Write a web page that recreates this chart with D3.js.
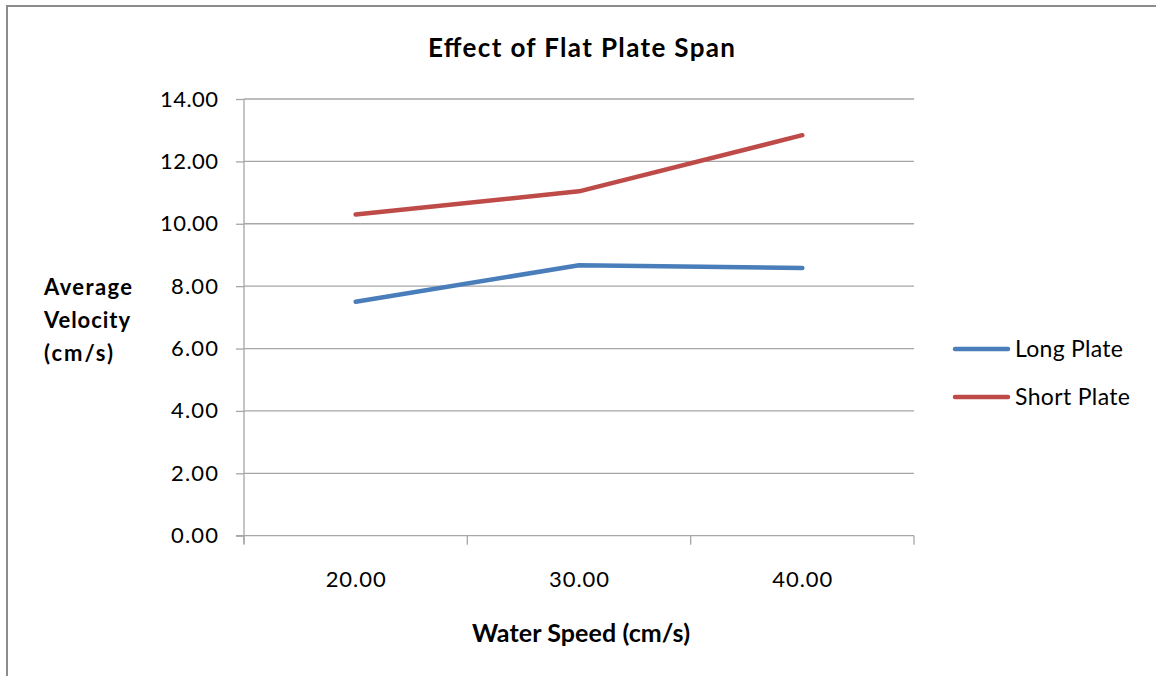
<!DOCTYPE html>
<html>
<head>
<meta charset="utf-8">
<script src="https://cdn.jsdelivr.net/npm/d3@7"></script>
<style>
  html, body { margin: 0; padding: 0; background: #fff; }
  svg { display: block; }
  text { font-family: Lato, "Open Sans", sans-serif; fill: #000; }
</style>
</head>
<body>
<svg id="chart" width="1156" height="676"></svg>
<script>
const categories = ["20.00", "30.00", "40.00"];
const seriesNames = ["Long Plate", "Short Plate"];
const longPlate = [7.50, 8.67, 8.58];
const shortPlate = [10.30, 11.04, 12.84];
const yTicks = [0, 2, 4, 6, 8, 10, 12, 14];
const colors = ["#4A7EBB", "#BE4B48"];

const svg = d3.select("#chart");
const W = 1156, H = 676;

// outer border
svg.append("rect")
  .attr("x", 7).attr("y", 6).attr("width", W + 10).attr("height", H + 10)
  .attr("fill", "none").attr("stroke", "#8c8c8c").attr("stroke-width", 2);

const plot = { left: 244, right: 914, top: 99, bottom: 535.7 };

const x = d3.scaleBand().domain(categories).range([plot.left, plot.right]).paddingInner(0).paddingOuter(0);
const y = d3.scaleLinear().domain([0, 14]).range([plot.bottom, plot.top]);

// gridlines
svg.append("g").selectAll("line").data(yTicks.filter(d => d > 0)).join("line")
  .attr("x1", plot.left).attr("x2", plot.right)
  .attr("y1", d => y(d)).attr("y2", d => y(d))
  .attr("stroke", "#a6a6a6").attr("stroke-width", 1.3);

// Y axis
const yAxis = d3.axisLeft(y).tickValues(yTicks).tickFormat(d3.format(".2f")).tickSize(8).tickPadding(18);
const gy = svg.append("g").attr("transform", `translate(${plot.left},0)`).call(yAxis);
gy.select(".domain").attr("stroke", "#a6a6a6").attr("stroke-width", 1.3).attr("d", `M0,${plot.top}V${plot.bottom + 8}`);
gy.selectAll(".tick line").attr("stroke", "#a6a6a6").attr("stroke-width", 1.3);
gy.selectAll(".tick text").attr("font-size", 22).attr("fill", "#222")
  .attr("textLength", d => d >= 10 ? 58 : 47).attr("lengthAdjust", "spacing")
  .style("font-family", "Lato, sans-serif");

// X axis
const xAxis = d3.axisBottom(x).tickSize(0).tickPadding(36);
const gx = svg.append("g").attr("transform", `translate(0,${plot.bottom})`).call(xAxis);
gx.select(".domain").attr("stroke", "#a6a6a6").attr("stroke-width", 1.3).attr("d", `M${plot.left - 8},0H${plot.right}`);
gx.selectAll(".tick text").attr("font-size", 22).attr("fill", "#222")
  .attr("textLength", 60).attr("lengthAdjust", "spacing")
  .style("font-family", "Lato, sans-serif");
// boundary tick marks between categories
const boundaries = categories.map(c => x(c)).concat([x(categories[categories.length - 1]) + x.bandwidth()]);
svg.append("g").selectAll("line").data(boundaries).join("line")
  .attr("x1", d => d).attr("x2", d => d)
  .attr("y1", plot.bottom).attr("y2", plot.bottom + 9)
  .attr("stroke", "#a6a6a6").attr("stroke-width", 1.3);

// lines
const line = d3.line().x((d, i) => x(categories[i]) + x.bandwidth() / 2).y(d => y(d));
[longPlate, shortPlate].forEach((s, i) => {
  svg.append("path").datum(s)
    .attr("d", line)
    .attr("fill", "none").attr("stroke", colors[i]).attr("stroke-width", 4.5)
    .attr("stroke-linecap", "round").attr("stroke-linejoin", "round");
});

// title
svg.append("text").attr("x", 428).attr("y", 56.5)
  .attr("font-size", 26).attr("font-weight", "bold")
  .attr("textLength", 307).attr("lengthAdjust", "spacing")
  .text("Effect of Flat Plate Span");

// y axis title
const ytLines = [["Average", 88], ["Velocity", 86], ["(cm/s)", 69]];
ytLines.forEach(([t, w], i) => {
  svg.append("text").attr("x", 44).attr("y", 295 + i * 33)
    .attr("font-size", 22).attr("font-weight", "bold")
    .attr("textLength", w).attr("lengthAdjust", "spacing").text(t);
});

// x axis title
svg.append("text").attr("x", 472).attr("y", 641.5)
  .attr("font-size", 25).attr("font-weight", "bold")
  .attr("textLength", 218).attr("lengthAdjust", "spacing")
  .text("Water Speed (cm/s)");

// legend
const legendW = [108, 115];
seriesNames.forEach((n, i) => {
  const ly = 349 + i * 48;
  svg.append("line").attr("x1", 955).attr("x2", 1008).attr("y1", ly).attr("y2", ly)
    .attr("stroke", colors[i]).attr("stroke-width", 4.5).attr("stroke-linecap", "round");
  svg.append("text").attr("x", 1015).attr("y", ly + 8).attr("font-size", 23).attr("fill", "#222")
    .attr("textLength", legendW[i]).attr("lengthAdjust", "spacing").text(n);
});
</script>
</body>
</html>
